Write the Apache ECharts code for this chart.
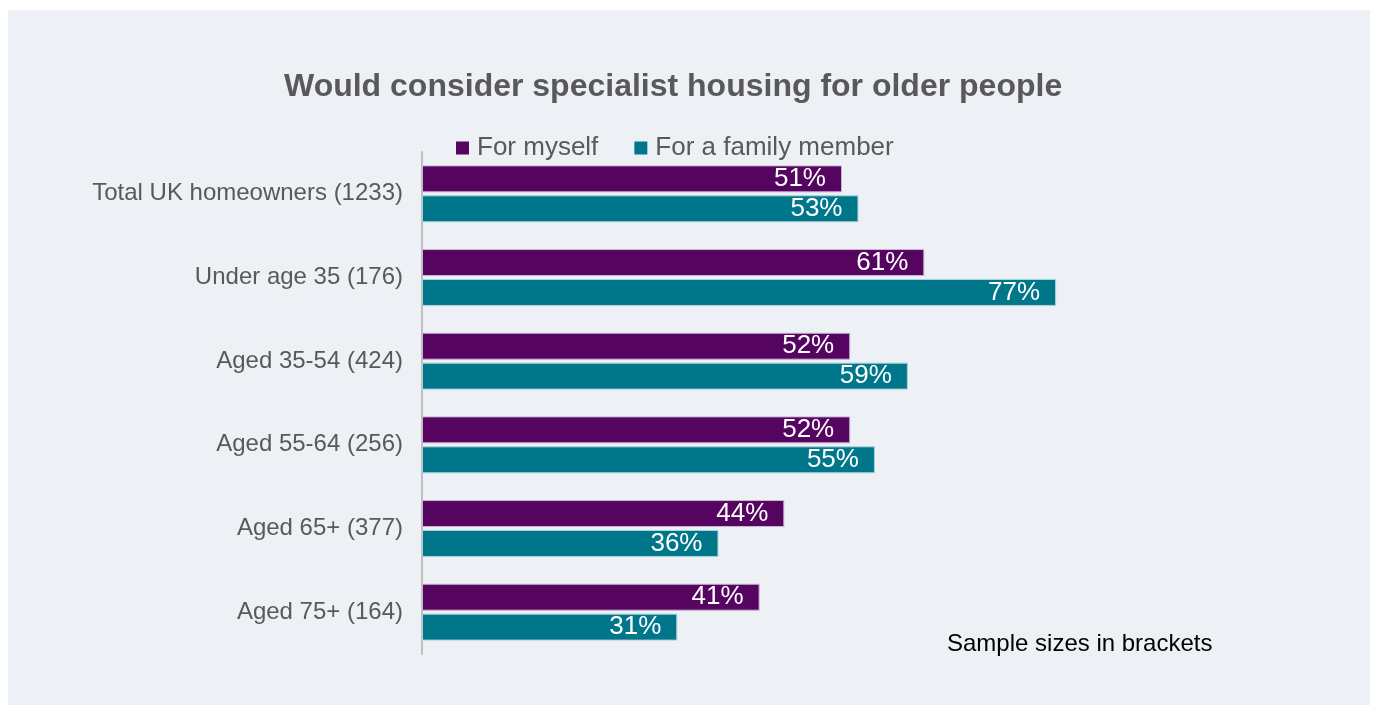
<!DOCTYPE html>
<html>
<head>
<meta charset="utf-8">
<script src="https://cdn.jsdelivr.net/npm/echarts@6/dist/echarts.min.js"></script>
<style>
html,body{margin:0;padding:0;background:#fff;}
#main{width:1375px;height:711px;}
</style>
</head>
<body>
<div id="main"></div>
<script>
const categories = ['Total UK homeowners (1233)','Under age 35 (176)','Aged 35-54 (424)','Aged 55-64 (256)','Aged 65+ (377)','Aged 75+ (164)'];
const forMyself = [51, 61, 52, 52, 44, 41];
const forFamily = [53, 77, 59, 55, 36, 31];
const seriesNames = ['For myself', 'For a family member'];

const FONT = '"Liberation Sans", Arial, sans-serif';
const chart = echarts.init(document.getElementById('main'), null, {renderer:'canvas'});
const labelCfg = {
  show: true, position: 'insideRight', distance: 16,
  color: '#ffffff', fontSize: 26, fontFamily: FONT,
  formatter: p => p.value + '%'
};
chart.setOption({
  backgroundColor: '#ffffff',
  animation: false,
  graphic: [
    {type:'rect', left: 8, top: 10, shape:{width:1362, height:695}, style:{fill:'#edf0f5'}, z: -10},
    {type:'text', left: 947, top: 632, style:{text:'Sample sizes in brackets', fill:'#000000', font: '24px ' + FONT}}
  ],
  title: {
    text: 'Would consider specialist housing for older people',
    left: 279, top: 66,
    textStyle: {fontSize: 32, fontWeight: 'bold', color: '#595959', fontFamily: FONT}
  },
  legend: {
    left: 451, top: 130,
    itemWidth: 13, itemHeight: 13, itemGap: 36,
    icon: 'rect',
    itemStyle: {borderWidth: 0},
    textStyle: {fontSize: 26, color: '#595959', fontFamily: FONT, padding:[0,0,0,3]},
    data: seriesNames
  },
  grid: {left: 422, top: 152, right: 129.5, bottom: 57, containLabel: false},
  xAxis: {
    type: 'value', min: 0, max: 100, show: false
  },
  yAxis: {
    type: 'category', data: categories, inverse: true,
    axisLine: {show: true, lineStyle: {color: '#bfbfbf', width: 2}},
    axisTick: {show: false},
    axisLabel: {fontSize: 24, color: '#595959', fontFamily: FONT, margin: 19}
  },
  series: [
    {name: seriesNames[0], type: 'bar', data: forMyself, barCategoryGap: '32%', barGap: '11%',
     itemStyle: {color: '#550460', borderColor: '#c9b6d0', borderWidth: 1}, label: labelCfg},
    {name: seriesNames[1], type: 'bar', data: forFamily, barCategoryGap: '32%', barGap: '11%',
     itemStyle: {color: '#00768b', borderColor: '#a9d3dc', borderWidth: 1}, label: labelCfg}
  ]
});
</script>
</body>
</html>
